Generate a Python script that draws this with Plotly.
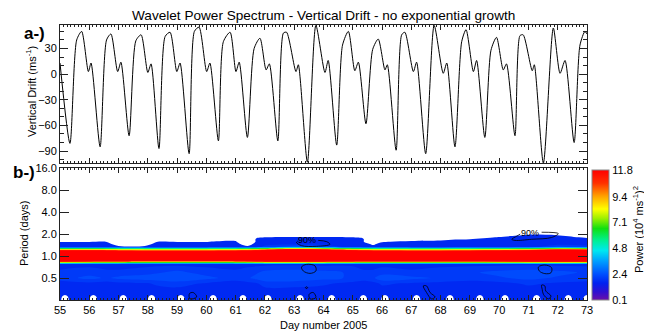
import plotly.graph_objects as go

# ---------------- Panel a: vertical drift (key points) ----------------
DRIFT_DAYS = [55.00, 55.34, 55.57, 55.74, 55.97, 56.06, 56.37, 56.59, 56.74, 56.97, 57.08,
              57.36, 57.59, 57.77, 58.00, 58.11, 58.38, 58.59, 58.76, 58.99, 59.10,
              59.41, 59.59, 59.75, 60.01, 60.12, 60.41, 60.58, 60.81, 61.01, 61.12,
              61.40, 61.63, 61.83, 62.04, 62.15, 62.44, 62.63, 62.74, 63.06, 63.14,
              63.45, 63.74, 64.05, 64.16, 64.45, 64.65, 64.85, 65.07, 65.19,
              65.45, 65.68, 65.87, 66.10, 66.18, 66.48, 66.67, 66.78, 67.07, 67.18,
              67.49, 67.78, 68.09, 68.21, 68.49, 68.72, 68.87, 69.12, 69.23,
              69.51, 69.72, 69.91, 70.14, 70.25, 70.54, 70.71, 70.82, 71.13, 71.20,
              71.51, 71.85, 72.08, 72.25, 72.56, 72.76, 72.93, 73.00]
DRIFT_VALUES = [13, -81, 40, 50, 3, 13, -85, 40, 47, 3, 14,
                -72, 39, 46, 2, 12, -87, 44, 49, 3, 13,
                -93, 50, 55, 3, 13, -78, 38, 49, 3, 14,
                -74, 30, 42, 5, 12, -78, 48, 49, 3, 11,
                -103, 57, 2, 16, -83, 34, 50, 4, 14,
                -58, 29, 41, 5, 11, -89, 46, 49, 3, 14,
                -93, 57, 1, 13, -85, 38, 52, 3, 16,
                -74, 28, 43, 5, 12, -72, 45, 46, 4, 11,
                -104, 54, 1, 16, -80, 34, 50, 47]

DRIFT_TICKS = [-90, -60, -30, 0, 30]

# ---------------- Panel b: wavelet power (10^4 (m/s)^2) on a day x log2(period) grid ----------------
GRID_DAYS = [55, 56, 56.6, 57.0, 57.9, 58.3, 59, 60, 61, 61.4, 61.7, 62, 63, 64, 65,
             65.35, 65.7, 66, 67, 68, 69, 70, 71, 72, 73]
GRID_LOG2P = [-2.0, -1.6, -1.25, -1.0, -0.75, -0.36, -0.2, 0.0, 0.2, 0.4,
              0.55, 0.65, 0.75, 0.85, 0.95, 1.05, 1.3, 4.0]
POWER = [
    [1.75] * 25,
    [1.75] * 25,
    [1.75, 1.8, 1.75, 1.8, 1.85, 1.95, 2.05, 1.85, 1.75, 1.8, 1.85, 2.05, 2.05, 1.95, 1.8,
     1.75, 1.8, 1.95, 1.85, 1.8, 1.75, 1.8, 1.95, 1.85, 1.8],
    [2.05, 2.3, 2.15, 2.3, 2.4, 2.4, 2.45, 2.3, 2.05, 2.15, 2.3, 2.4, 2.4, 2.3, 2.15,
     2.05, 2.15, 2.4, 2.3, 2.15, 2.05, 2.15, 2.3, 2.15, 2.05],
    [1.95, 2.05, 1.95, 1.95, 2.05, 2.15, 2.3, 2.05, 1.95, 2.05, 2.15, 2.3, 2.4, 2.3, 2.15,
     1.95, 1.95, 2.05, 1.95, 2.05, 2.15, 2.3, 2.4, 2.3, 2.15],
    [1.8] * 25,
    [14.5, 14, 13.5, 13.5, 12.5, 12.5, 12.5, 12.5, 13, 13.5, 14, 14.5, 15, 14.5, 14,
     13.5, 13.5, 13.5, 13.5, 13.5, 13.5, 14, 14.5, 15, 15],
    [28] * 25,
    [14, 14, 13.5, 13, 12.5, 12.5, 12.5, 12.5, 13, 13.5, 14.5, 15.5, 19, 17, 14.5,
     13.5, 13, 13, 12.5, 12.5, 13, 13.5, 14.5, 17, 16.5],
    [1.75, 1.75, 1.75, 1.75, 1.75, 1.75, 1.75, 1.75, 1.75, 1.75, 1.75, 2.05, 2.6, 2.3, 1.75,
     1.75, 1.75, 1.75, 1.75, 1.75, 1.75, 1.75, 1.75, 2.3, 2.05],
    [1.75, 1.75, 1.75, 1.375, 1.375, 1.75, 1.75, 1.75, 1.75, 1.375, 1.75, 1.75, 1.75, 1.75, 1.75,
     1.75, 1.525, 1.75, 1.75, 1.75, 1.75, 1.75, 1.75, 1.75, 1.75],
    [1.58, 1.58, 1.58, 0, 0, 1.58, 1.58, 1.58, 1.75, 0, 1.75, 1.75, 1.75, 1.75, 1.75,
     1.75, 0, 1.54, 1.75, 1.75, 1.75, 1.75, 1.75, 1.75, 1.75],
    [0, 0, 0, 0, 0, 0, 0, 0, 1.25, 0, 1.75, 1.75, 1.75, 1.75, 1.75,
     1.75, 0, 0, 1.25, 1.45, 1.75, 1.75, 1.75, 1.75, 1.75],
    [0, 0, 0, 0, 0, 0, 0, 0, 0, 0, 1.45, 1.59, 1.75, 1.75, 1.59,
     1.45, 0, 0, 0, 0, 0.68, 1.75, 1.75, 1.75, 1.54],
    [0, 0, 0, 0, 0, 0, 0, 0, 0, 0, 0, 0, 0.68, 0.68, 0,
     0, 0, 0, 0, 0, 0, 0.68, 1.75, 1.59, 0],
    [0, 0, 0, 0, 0, 0, 0, 0, 0, 0, 0, 0, 0, 0, 0,
     0, 0, 0, 0, 0, 0, 0, 1.0, 0, 0],
    [0] * 25,
    [0] * 25,
]

# white gaps at the shortest periods (centre day of each gap)
BLOB_DAYS = [55.17, 56.14, 57.16, 58.13, 59.13, 60.23, 61.25, 62.1, 63.2, 64.28, 65.36,
             66.1, 67.18, 68.32, 69.34, 70.2, 71.28, 72.36, 73.0]
STRIP_LOG2P = [-2.0, -1.85, -1.7, -1.5]
BLUE_LEVEL = 1.75
BLOB_BOTTOM = 1.32
BLOB_MID = 1.45

# 90% significance contours (day, log2 period); None separates loops
SIG_DAYS = [63.82, 64.11, 64.22, 63.77, 63.25, 63.08, 63.12, None,
            71.45, 72.02, 71.79, 71.11, 70.54, 70.43, 70.6, 70.72, None,
            63.25, 63.42, 63.71, 63.74, 63.54, 63.31, 63.25, None,
            71.34, 71.56, 71.79, 71.77, 71.56, 71.37, 71.34, None,
            67.41, 67.52, 67.64, 67.81, 67.69, 67.52, 67.41, None,
            71.45, 71.56, 71.59, 71.77, 71.68, 71.51, 71.47, 71.45, None,
            63.51, 63.65, 63.74, 63.54, 63.51, None,
            59.42, 59.55, 59.67, 59.44, 59.42, None,
            63.38, 63.42, 63.46, 63.42, 63.38]
SIG_LOG2P = [0.71, 0.65, 0.53, 0.44, 0.47, 0.61, 0.68, None,
             1.08, 1.02, 0.84, 0.76, 0.71, 0.76, 0.9, 1.0, None,
             -0.5, -0.38, -0.45, -0.68, -0.79, -0.68, -0.5, None,
             -0.5, -0.41, -0.53, -0.76, -0.8, -0.68, -0.5, None,
             -1.36, -1.36, -1.66, -1.86, -1.95, -1.66, -1.36, None,
             -1.32, -1.36, -1.59, -1.82, -1.95, -1.74, -1.51, -1.32, None,
             -1.74, -1.66, -1.89, -1.95, -1.74, None,
             -1.71, -1.66, -1.86, -1.95, -1.71, None,
             -1.44, -1.40, -1.44, -1.48, -1.44]
SIG_LABEL_DAYS = [63.45, 71.05]
SIG_LABEL_LOG2P = [0.71, 1.06]

PERIOD_TICKVALS = [-1, 0, 1, 2, 3, 4]
PERIOD_TICKTEXT = ["0.5", "1.0", "2.0", "4.0", "8.0", "16.0"]
CBAR_TICKS = [0.1, 2.4, 4.8, 7.1, 9.4, 11.8]
CBAR_TEXT = ["0.1", "2.4", "4.8", "7.1", "9.4", "11.8"]
DAY_TICKS = list(range(55, 74))

# ---------------- styles ----------------
FONT = "Liberation Sans, Arial, sans-serif"
CB_MIN, CB_MAX = 0.1, 11.8
RAINBOW = [
    [0.0, "#6a10a8"], [0.06, "#3010d0"], [0.13, "#0022f0"], [0.2, "#0050ff"],
    [0.3, "#00a0ff"], [0.38, "#00e8f0"], [0.46, "#00f090"], [0.55, "#10e010"],
    [0.63, "#a0f000"], [0.7, "#ffff00"], [0.8, "#ffa000"], [0.9, "#ff3000"],
    [1.0, "#ff0000"],
]


def rainbow_at(g):
    g = min(max(g, 0.0), 1.0)
    for (g0, c0), (g1, c1) in zip(RAINBOW[:-1], RAINBOW[1:]):
        if g0 <= g <= g1:
            t = 0 if g1 == g0 else (g - g0) / (g1 - g0)
            a = [int(c0[i:i + 2], 16) for i in (1, 3, 5)]
            b = [int(c1[i:i + 2], 16) for i in (1, 3, 5)]
            return "#" + "".join("%02x" % round(x + (y - x) * t) for x, y in zip(a, b))
    return RAINBOW[-1][1]


# filled contours: lowest drawn level 1.6, below it the picture is white
LEV_START, LEV_END, LEV_SIZE = 1.6, 11.8, 0.3
n_lev = int((LEV_END - LEV_START) / LEV_SIZE + 1e-6) + 1


def f_of(v):
    return ((v - LEV_START) / LEV_SIZE + 0.5) / n_lev


off = f_of(LEV_START)
contour_cs = [[0.0, "white"], [off - 1e-4, "white"],
              [off, rainbow_at((LEV_START - CB_MIN) / (CB_MAX - CB_MIN))]]
for g, c in RAINBOW:
    fv = f_of(CB_MIN + g * (CB_MAX - CB_MIN))
    if off < fv < 1:
        contour_cs.append([fv, c])
contour_cs.append([1.0, RAINBOW[-1][1]])
contours = dict(start=LEV_START, end=LEV_END, size=LEV_SIZE, coloring="fill", showlines=False)

# strip table for the bottom gaps
strip_x, strip_bottom, strip_mid = [], [], []
for c in BLOB_DAYS:
    strip_x += [c - 0.2, c, c + 0.2]
    strip_bottom += [BLUE_LEVEL, BLOB_BOTTOM, BLUE_LEVEL]
    strip_mid += [BLUE_LEVEL, BLOB_MID, BLUE_LEVEL]
strip_z = [strip_bottom, strip_mid, [BLUE_LEVEL] * len(strip_x), [BLUE_LEVEL] * len(strip_x)]

fig = go.Figure()
fig.add_trace(go.Scatter(
    x=DRIFT_DAYS, y=DRIFT_VALUES, mode="lines", xaxis="x", yaxis="y",
    line=dict(color="black", width=1.0, shape="spline", smoothing=0.7),
    showlegend=False, hoverinfo="skip"))
fig.add_trace(go.Contour(
    x=GRID_DAYS, y=GRID_LOG2P, z=POWER, xaxis="x2", yaxis="y2",
    colorscale=contour_cs, contours=contours, line=dict(width=0, smoothing=1),
    showscale=False, hoverinfo="skip"))
fig.add_trace(go.Contour(
    x=strip_x, y=STRIP_LOG2P, z=strip_z, xaxis="x2", yaxis="y2",
    colorscale=contour_cs, contours=contours, line=dict(width=0, smoothing=1),
    showscale=False, hoverinfo="skip"))
fig.add_trace(go.Scatter(
    x=SIG_DAYS, y=SIG_LOG2P, mode="lines", xaxis="x2", yaxis="y2",
    line=dict(color="black", width=0.8, shape="spline"),
    showlegend=False, hoverinfo="skip"))
# colour bar
fig.add_trace(go.Scatter(
    x=[55, 55], y=[0, 0], mode="markers", xaxis="x", yaxis="y", opacity=0,
    marker=dict(size=1, color=[CB_MIN, CB_MAX], colorscale=RAINBOW,
                cmin=CB_MIN, cmax=CB_MAX, showscale=True,
                colorbar=dict(x=1.0095, xanchor="left", y=0, yanchor="bottom",
                              len=130 / 275, lenmode="fraction", thickness=17,
                              xpad=0, ypad=0, outlinewidth=1, outlinecolor="#888",
                              tickvals=CBAR_TICKS, ticktext=CBAR_TEXT, ticks="",
                              tickfont=dict(size=11, color="black", family=FONT))),
    showlegend=False, hoverinfo="skip"))

axis_common = dict(showline=True, linecolor="#222", linewidth=1, mirror="ticks",
                   ticks="inside", tickcolor="#222", showgrid=False, zeroline=False,
                   tickfont=dict(size=11, color="black", family=FONT))
# the page adds an 8 px body margin, so the figure is 8 px smaller each way
fig.update_layout(
    width=644, height=326, margin=dict(l=52, r=65, t=17, b=34),
    paper_bgcolor="white", plot_bgcolor="white", showlegend=False,
    font=dict(family=FONT, color="black"),
    xaxis=dict(axis_common, domain=[0, 1], range=[55, 73], anchor="y",
               tickvals=DAY_TICKS, ticklen=5, showticklabels=False,
               minor=dict(dtick=0.125, tick0=55, ticklen=2, ticks="inside", tickcolor="#222")),
    yaxis=dict(axis_common, domain=[0.498, 1], range=[-104, 57.5], anchor="x",
               tickvals=DRIFT_TICKS, ticklen=8,
               minor=dict(dtick=10, tick0=0, ticklen=4, ticks="inside", tickcolor="#222")),
    xaxis2=dict(axis_common, domain=[0, 1], range=[55, 73], anchor="y2",
                tickvals=DAY_TICKS, ticklen=5,
                minor=dict(dtick=0.125, tick0=55, ticklen=2, ticks="inside", tickcolor="#222")),
    yaxis2=dict(axis_common, domain=[0, 0.48], range=[-2, 4], anchor="x2",
                tickvals=PERIOD_TICKVALS, ticktext=PERIOD_TICKTEXT, ticklen=9),
)

ann = []
ann.append(dict(text="Wavelet Power Spectrum - Vertical Drift - no exponential growth",
                xref="paper", yref="paper", x=0.5, y=(300 - 15.5) / 275, showarrow=False,
                xanchor="center", yanchor="middle", font=dict(size=13.6, family=FONT)))
ann.append(dict(text="<b>a-)</b>", xref="paper", yref="paper", x=(34 - 60) / 527,
                y=(300 - 33.5) / 275, showarrow=False, xanchor="center", yanchor="middle",
                font=dict(size=17, family=FONT)))
ann.append(dict(text="<b>b-)</b>", xref="paper", yref="paper", x=(24 - 60) / 527,
                y=(300 - 172) / 275, showarrow=False, xanchor="center", yanchor="middle",
                font=dict(size=17, family=FONT)))
ann.append(dict(text="Vertical Drift (ms<sup>-1</sup>)", xref="paper", yref="paper",
                x=(31 - 60) / 527, y=(300 - 92) / 275, textangle=-90, showarrow=False,
                xanchor="center", yanchor="middle", font=dict(size=11, family=FONT)))
ann.append(dict(text="Period (days)", xref="paper", yref="paper",
                x=(24 - 60) / 527, y=(300 - 234) / 275, textangle=-90, showarrow=False,
                xanchor="center", yanchor="middle", font=dict(size=11, family=FONT)))
ann.append(dict(text="Power (10<sup>4</sup> ms<sup>-1</sup>)<sup>2</sup>", xref="paper", yref="paper",
                x=(638 - 60) / 527, y=(300 - 230) / 275, textangle=-90, showarrow=False,
                xanchor="center", yanchor="middle", font=dict(size=11, family=FONT)))
ann.append(dict(text="Day number 2005", xref="paper", yref="paper",
                x=0.5, y=(300 - 325) / 275, showarrow=False,
                xanchor="center", yanchor="middle", font=dict(size=11, family=FONT)))
for d, p in zip(SIG_LABEL_DAYS, SIG_LABEL_LOG2P):
    ann.append(dict(text="90%", xref="x2", yref="y2", x=d, y=p, showarrow=False,
                    xanchor="center", yanchor="middle", font=dict(size=9, family=FONT)))
fig.update_layout(annotations=ann)

fig.write_html("out.html")
